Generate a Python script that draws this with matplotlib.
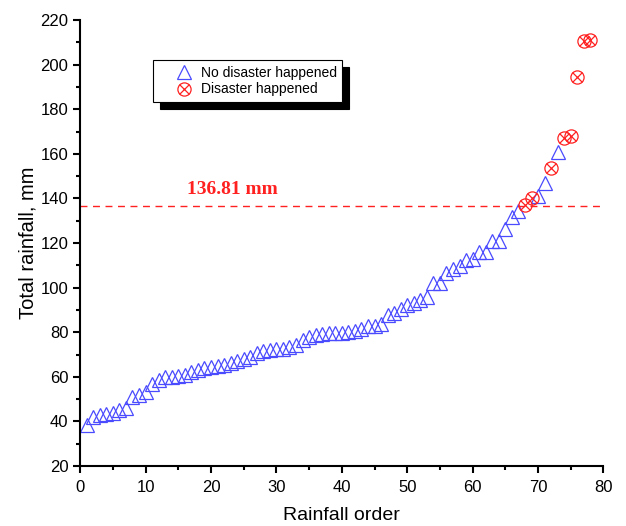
import matplotlib
matplotlib.use("Agg")
import matplotlib.pyplot as plt
from matplotlib.ticker import MultipleLocator

plt.rcParams['font.family'] = ['Liberation Sans', 'DejaVu Sans']

# rainfall order -> total rainfall (mm)
order = list(range(1, 79))
rain = [38.5, 42, 43, 43.5, 44, 45, 46, 51, 52, 53,
        57, 58.5, 60, 60, 60.5, 61, 62, 63, 64, 64.5,
        65, 65.5, 66, 67, 68, 69, 70.5, 71.5, 72, 72.3,
        72.7, 73.5, 74.3, 76.5, 78, 78.7, 79.3, 79.8, 79.8, 79.8,
        80.3, 80.5, 81.3, 82.8, 83, 83.5, 87.7, 88.5, 90.3, 92.2,
        93, 94.5, 96, 102, 102, 106.5, 108.5, 109.5, 112.5, 113,
        116, 116, 121, 121, 126.5, 131.5, 134.5, 137, 140, 141,
        147, 153.5, 161, 167, 168, 194.5, 210.5, 211]
disaster_orders = [68, 69, 72, 74, 75, 76, 77, 78]
threshold = 136.81

no_x = [o for o in order if o not in disaster_orders]
no_y = [r for o, r in zip(order, rain) if o not in disaster_orders]
dis_x = [o for o in order if o in disaster_orders]
dis_y = [r for o, r in zip(order, rain) if o in disaster_orders]

blue = '#4a4aff'
red = '#ff2020'

fig = plt.figure(figsize=(6.26, 5.26), dpi=100)
ax = fig.add_axes([0.128, 0.114, 0.836, 0.848])

tri, = ax.plot(no_x, no_y, ls='none', marker='^', ms=9.5, mfc='none',
               mec=blue, mew=0.9, clip_on=False)
circ, = ax.plot(dis_x, dis_y, ls='none', marker='o', ms=9.5, mfc='none',
                mec=red, mew=0.9, clip_on=False)
cross, = ax.plot(dis_x, dis_y, ls='none', marker='x', ms=6.5, mec=red,
                 mew=0.9, clip_on=False)

ax.axhline(threshold, color=red, ls=(0, (5, 4)), lw=1)
ax.text(23.3, 144, f'{threshold} mm', color=red, fontsize=14,
        fontweight='bold', family=['Liberation Serif', 'DejaVu Serif'],
        ha='center', va='center')

ax.set_xlim(0, 80)
ax.set_ylim(20, 220)
ax.xaxis.set_major_locator(MultipleLocator(10))
ax.xaxis.set_minor_locator(MultipleLocator(5))
ax.yaxis.set_major_locator(MultipleLocator(20))
ax.yaxis.set_minor_locator(MultipleLocator(10))

for s in ['top', 'right']:
    ax.spines[s].set_visible(False)
for s in ['left', 'bottom']:
    ax.spines[s].set_linewidth(1.5)
ax.tick_params(which='major', direction='out', length=5, width=1.5,
               labelsize=12)
ax.tick_params(axis='x', which='major', pad=5)
ax.tick_params(which='minor', direction='out', length=3, width=1.5)

ax.set_xlabel('Rainfall order', fontsize=14, labelpad=9)
ax.set_ylabel('Total rainfall, mm', fontsize=14.5, labelpad=2)

leg = ax.legend([tri, (circ, cross)], ['No disaster happened', 'Disaster happened'],
                loc='upper left', bbox_to_anchor=(0.14, 0.91),
                fancybox=False, edgecolor='black', framealpha=1,
                shadow={'color': 'black', 'alpha': 1, 'ox': 5, 'oy': -5},
                fontsize=10, handlelength=3.6, handletextpad=-0.6,
                borderpad=0.4, labelspacing=0.2, borderaxespad=0)
leg.get_frame().set_linewidth(0.8)

fig.savefig('out.png', dpi=100)
